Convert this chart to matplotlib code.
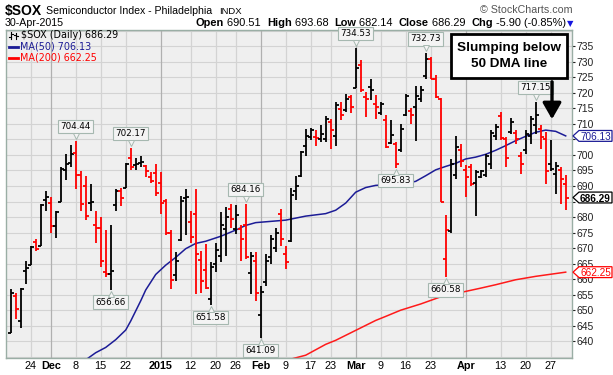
import matplotlib
matplotlib.use('Agg')
import matplotlib.pyplot as plt
import numpy as np
import pandas as pd
from matplotlib.collections import LineCollection
from matplotlib.patches import Rectangle, Polygon, FancyArrowPatch
from matplotlib.lines import Line2D
from matplotlib.transforms import blended_transform_factory, offset_copy

W, H = 613, 375

# trading days on the chart (NYSE holidays removed)
holidays = ['2014-11-27', '2014-12-25', '2015-01-01', '2015-01-19', '2015-02-16', '2015-04-03']
dates = pd.bdate_range('2014-11-18', '2015-04-30').drop(pd.to_datetime(holidays))

# daily OHLC
opens = [642.7, 654.6, 646.5, 662.5, 664.7, 671.8, 670.7, 685.5, 684.6, 677.0,
         684.7, 695.1, 697.3, 700.6, 693.4, 689.9, 684.6, 677.4, 676.6, 662.3,
         661.6, 684.0, 688.3, 689.4, 699.1, 696.7, 697.5, 696.3, 692.8, 694.3,
         691.0, 685.2, 674.9, 661.4, 672.6, 686.0, 678.3, 681.0, 666.2, 662.9,
         653.5, 665.0, 667.5, 676.0, 682.6, 676.0, 676.0, 677.4, 662.0, 666.0,
         648.5, 659.0, 667.0, 670.0, 681.0, 668.0, 672.2, 688.4, 693.3, 703.0,
         705.7, 705.7, 705.0, 705.2, 710.5, 706.0, 714.7, 714.5, 718.5, 721.5,
         729.0, 718.5, 722.0, 716.5, 713.5, 711.1, 704.0, 703.5, 701.5, 713.0,
         714.0, 715.5, 718.0, 725.5, 731.0, 724.5, 718.0, 666.5, 675.5, 693.5,
         701.5, 695.0, 696.0, 691.0, 693.0, 693.5, 697.0, 706.0, 712.5, 705.0,
         707.5, 707.0, 699.5, 701.5, 706.0, 709.5, 708.5, 705.0, 697.0, 694.0,
         695.0, 690.51]
highs = [656.9, 655.6, 657.2, 666.0, 670.7, 672.8, 684.2, 688.3, 686.6, 681.8,
         696.1, 700.3, 703.2, 704.44, 694.9, 693.2, 690.7, 682.1, 680.0, 675.9,
         677.4, 688.9, 689.4, 697.4, 702.17, 698.9, 699.8, 696.9, 694.6, 697.0,
         694.6, 685.8, 675.9, 668.6, 686.8, 688.9, 681.8, 688.9, 669.1, 671.2,
         665.5, 671.7, 681.6, 683.2, 684.2, 683.9, 677.4, 684.16, 668.6, 668.6,
         657.7, 668.1, 674.3, 676.4, 682.6, 670.7, 689.5, 693.3, 701.4, 708.4,
         708.8, 708.1, 709.5, 712.4, 711.7, 717.1, 717.1, 719.5, 719.2, 734.53,
         730.6, 720.3, 724.6, 719.2, 717.1, 712.8, 711.4, 704.1, 710.0, 719.6,
         715.2, 722.2, 722.2, 732.73, 731.4, 725.7, 718.2, 680.7, 698.7, 706.0,
         703.6, 696.6, 697.1, 695.0, 695.2, 700.3, 707.9, 710.0, 713.8, 705.7,
         712.0, 707.9, 700.9, 707.9, 712.4, 717.15, 709.5, 707.4, 704.7, 697.6,
         696.0, 693.68]
lows = [642.7, 647.3, 644.4, 658.5, 664.5, 669.1, 670.7, 682.1, 674.8, 673.3,
        684.7, 692.0, 696.1, 688.9, 682.1, 679.0, 682.1, 671.7, 663.9, 660.8,
        656.66, 681.8, 683.7, 689.4, 695.1, 695.3, 696.1, 693.0, 690.9, 686.8,
        681.1, 674.3, 656.7, 659.3, 672.3, 674.3, 671.7, 655.1, 655.6, 656.7,
        651.58, 662.4, 665.5, 667.6, 676.4, 674.5, 666.0, 666.5, 655.1, 653.0,
        641.09, 657.7, 665.0, 668.6, 670.7, 663.4, 671.8, 685.4, 693.0, 699.8,
        704.7, 703.0, 704.1, 704.1, 702.0, 703.0, 711.1, 713.8, 713.6, 721.4,
        720.3, 712.2, 717.6, 711.7, 712.8, 702.3, 703.6, 695.83, 700.9, 712.4,
        710.0, 704.4, 717.1, 724.6, 724.3, 718.2, 684.7, 660.58, 675.0, 692.2,
        696.0, 686.3, 690.1, 680.4, 692.5, 692.8, 695.5, 704.7, 704.7, 696.0,
        706.6, 703.6, 693.9, 700.3, 703.6, 706.8, 702.0, 690.6, 694.9, 687.4,
        684.1, 682.14]
closes = [655.6, 650.5, 656.9, 663.5, 670.3, 669.6, 684.0, 686.6, 677.2, 681.5,
          695.6, 697.0, 700.4, 693.5, 684.1, 680.4, 684.9, 676.4, 665.9, 661.8,
          662.7, 688.5, 686.0, 697.0, 696.2, 697.1, 697.8, 694.9, 691.5, 687.7,
          684.5, 675.0, 659.6, 666.0, 685.2, 686.4, 673.7, 668.0, 659.3, 657.0,
          664.0, 669.5, 677.5, 680.0, 679.5, 680.5, 672.8, 667.0, 667.5, 655.5,
          655.8, 666.0, 673.0, 675.0, 673.0, 665.6, 687.0, 690.1, 700.9, 706.0,
          707.9, 705.5, 706.8, 711.7, 707.9, 716.0, 712.8, 718.0, 715.5, 728.0,
          720.8, 718.0, 720.8, 715.5, 716.5, 702.5, 706.3, 697.0, 708.5, 719.0,
          713.0, 719.0, 721.0, 731.0, 724.6, 718.5, 685.0, 675.8, 697.0, 702.5,
          698.0, 693.0, 690.5, 694.5, 694.8, 699.5, 707.0, 709.0, 705.5, 699.0,
          710.6, 705.0, 697.0, 706.8, 711.5, 713.0, 705.7, 694.9, 695.5, 696.5,
          692.19, 686.29]

# moving averages, read at a few dates
ma50_dates = ['2014-12-10', '2014-12-12', '2014-12-16', '2014-12-18', '2014-12-22', '2014-12-23',
              '2014-12-26', '2014-12-29', '2014-12-31',
              '2015-01-05', '2015-01-07', '2015-01-09', '2015-01-13', '2015-01-15', '2015-01-21',
              '2015-01-26', '2015-01-28', '2015-01-30', '2015-02-04', '2015-02-09', '2015-02-13',
              '2015-02-20', '2015-02-24', '2015-02-26', '2015-03-02', '2015-03-04', '2015-03-06',
              '2015-03-11', '2015-03-16', '2015-03-18', '2015-03-20', '2015-03-24', '2015-03-26',
              '2015-03-30', '2015-04-01', '2015-04-06', '2015-04-08', '2015-04-10', '2015-04-14',
              '2015-04-16', '2015-04-20', '2015-04-22', '2015-04-24', '2015-04-28', '2015-04-30']
ma50_vals = [634.0, 636.3, 638.0, 640.5, 643.6, 646.5, 653.0, 656.5, 661.5,
             664.5, 667.0, 669.8, 671.5, 672.2, 673.8,
             675.8, 677.3, 678.2, 678.6, 679.0, 680.3, 681.1, 682.2, 684.5, 688.0, 689.5, 690.2,
             690.5, 690.8, 691.5, 693.3, 695.2, 696.3, 697.3, 698.7, 699.3, 700.2, 701.5, 703.0,
             704.6, 706.0, 707.3, 708.0, 707.6, 706.13]
ma200_dates = ['2015-02-09', '2015-02-13', '2015-02-20', '2015-02-24', '2015-03-02', '2015-03-06',
               '2015-03-10', '2015-03-13', '2015-03-19', '2015-03-25', '2015-03-31', '2015-04-07',
               '2015-04-10', '2015-04-16', '2015-04-22', '2015-04-30']
ma200_vals = [633.8, 635.5, 639.0, 640.3, 643.5, 646.7, 648.0, 650.0, 652.0, 654.3, 655.7, 657.1,
              658.2, 659.8, 660.9, 662.25]

# labelled highs / lows
hi_dates = ['2014-12-08', '2014-12-23', '2015-01-28', '2015-03-02', '2015-03-20', '2015-04-22']
hi_vals = [704.44, 702.17, 684.16, 734.53, 732.73, 717.15]
lo_dates = ['2014-12-17', '2015-01-16', '2015-02-02', '2015-03-12', '2015-03-26']
lo_vals = [656.66, 651.58, 641.09, 695.83, 660.58]

tick_dates = ['2014-11-24', '2014-12-01', '2014-12-08', '2014-12-15', '2014-12-22', '2015-01-02',
              '2015-01-12', '2015-01-20', '2015-01-26', '2015-02-02', '2015-02-09', '2015-02-17',
              '2015-02-23', '2015-03-02', '2015-03-09', '2015-03-16', '2015-03-23', '2015-04-01',
              '2015-04-13', '2015-04-20', '2015-04-27']
tick_labels = ['24', 'Dec', '8', '15', '22', '2015', '12', '20', '26', 'Feb', '9', '17', '23',
               'Mar', '9', '16', '23', 'Apr', '13', '20', '27']

# price tags at the right edge: (value, colour, bold)
tags = [(706.13, '#1c1c96', False), (686.29, 'black', True), (662.25, '#ff0000', False)]


def pos(d):
    return dates.get_loc(pd.Timestamp(d))


def fx(x):
    return x / W


def fy(y):
    return 1 - y / H


fig = plt.figure(figsize=(W / 100, H / 100), dpi=100)
fig.patch.set_facecolor('white')
ax = fig.add_axes([fx(6), fy(358), 566 / W, 328.5 / H])
ax.set_facecolor('#efefef')
ax.set_xlim(-0.94, 112.26)
ax.set_ylim(634.6, 740.4)

# grid
for v in range(635, 741, 5):
    ax.axhline(v, color='#d3d3d3', lw=0.8, zorder=0)
tick_pos = [pos(d) for d in tick_dates]
for p, lab in zip(tick_pos, tick_labels):
    strong = not lab.isdigit() or lab == '2015'
    ax.axvline(p, color='#b0b0b0' if strong else '#d3d3d3', lw=0.9, zorder=0)

# moving averages
ax.plot([pos(d) for d in ma50_dates], ma50_vals, color='#1c1c96', lw=1.1, zorder=2)
ax.plot([pos(d) for d in ma200_dates], ma200_vals, color='#ff1a1a', lw=1.1, zorder=2)

# OHLC bars, red when close is below previous close
segs, cols = [], []
for i in range(len(closes)):
    c = 'black' if i == 0 or closes[i] >= closes[i - 1] else '#ff0000'
    segs += [[(i, lows[i]), (i, highs[i])],
             [(i - 0.6, opens[i]), (i, opens[i])],
             [(i, closes[i]), (i + 0.6, closes[i])]]
    cols += [c] * 3
ax.add_collection(LineCollection(segs, colors=cols, linewidths=1.3, zorder=3))

# value flags with a small pointer
box = dict(boxstyle='square,pad=0.25', fc='#f4f4f4', ec='#a6b8b0', lw=0.8)
up = offset_copy(ax.transData, fig=fig, y=5, units='dots')
dn = offset_copy(ax.transData, fig=fig, y=-4, units='dots')
for d, v in zip(hi_dates, hi_vals):
    ax.annotate(f'{v:.2f}', (pos(d), v), xytext=(0, 10), textcoords='offset pixels',
                ha='center', va='bottom', fontsize=6.3, bbox=box, zorder=5)
    ax.plot(pos(d), v, marker='v', ms=5, mfc='#f4f4f4', mec='#a6b8b0', mew=0.7,
            transform=up, zorder=6, clip_on=False)
for d, v in zip(lo_dates, lo_vals):
    ax.annotate(f'{v:.2f}', (pos(d), v), xytext=(0, -8), textcoords='offset pixels',
                ha='center', va='top', fontsize=6.3, bbox=box, zorder=5)
    ax.plot(pos(d), v, marker='^', ms=5, mfc='#f4f4f4', mec='#a6b8b0', mew=0.7,
            transform=dn, zorder=6, clip_on=False)

# axes styling
for s in ax.spines.values():
    s.set_color('#9aaea5')
    s.set_linewidth(1)
ax.yaxis.tick_right()
yt = list(range(640, 736, 5))
ax.set_yticks(yt)
# 705 and 685 sit behind the MA(50) and close tags
ax.set_yticklabels(['' if v in (705, 685) else str(v) for v in yt])
ax.tick_params(axis='y', length=2.5, width=0.8, pad=1, labelsize=7.5, colors='#222222')
for t in ax.get_yticklabels():
    t.set_fontfamily('Liberation Sans')
ax.set_xticks(tick_pos)
ax.set_xticklabels(tick_labels)
ax.tick_params(axis='x', length=0, pad=2.5, labelsize=7.8)
for t, lab in zip(ax.get_xticklabels(), tick_labels):
    t.set_fontfamily('Liberation Sans')
    if not lab.isdigit() or lab == '2015':
        t.set_fontweight('bold')

# right side tags
tr = blended_transform_factory(fig.transFigure, ax.transData)
for v, col, bold in tags:
    h = 1.75
    poly = Polygon([(fx(573), v), (fx(579), v + h), (fx(612), v + h), (fx(612), v - h), (fx(579), v - h)],
                   closed=True, fc='white', ec=col, lw=0.9, transform=tr, clip_on=False, zorder=6)
    fig.patches.append(poly)
    fig.text(fx(595.5), v, f'{v:.2f}', transform=tr, ha='center', va='center_baseline',
             fontsize=7.2, fontweight='bold' if bold else 'normal',
             color=col, family='Liberation Sans', zorder=7)

# legend inside plot
fig.text(fx(21), fy(35.5), '$SOX (Daily) 686.29', fontsize=6.9, va='center')
fig.text(fx(20), fy(46.5), 'MA(50) 706.13', fontsize=6.9, va='center', color='#1c1c96')
fig.text(fx(20), fy(58), 'MA(200) 662.25', fontsize=6.9, va='center', color='#ff0000')
fig.lines.append(Line2D([fx(9), fx(18)], [fy(46.5), fy(46.5)], color='#1c1c96', lw=2, transform=fig.transFigure))
fig.lines.append(Line2D([fx(9), fx(18)], [fy(58), fy(58)], color='#ff0000', lw=2, transform=fig.transFigure))
for xs, y0, y1, yo, yc in [(11, 32, 39, 37, 34), (16, 33, 39, 35, 36)]:
    fig.lines.append(Line2D([fx(xs), fx(xs)], [fy(y0), fy(y1)], color='black', lw=0.8, transform=fig.transFigure))
    fig.lines.append(Line2D([fx(xs - 2), fx(xs)], [fy(yo), fy(yo)], color='black', lw=0.8, transform=fig.transFigure))
    fig.lines.append(Line2D([fx(xs), fx(xs + 2)], [fy(yc), fy(yc)], color='black', lw=0.8, transform=fig.transFigure))

# callout box and arrow
fig.patches.append(Rectangle((fx(451), fy(78)), 116 / W, 44 / H, transform=fig.transFigure,
                             fc='white', ec='black', lw=2, zorder=8))
fig.text(fx(509), fy(48), 'Slumping below', ha='center', va='center', fontsize=9.7,
         fontweight='bold', family='Liberation Sans', zorder=9)
fig.text(fx(509), fy(64), '50 DMA line', ha='center', va='center', fontsize=9.7,
         fontweight='bold', family='Liberation Sans', zorder=9)
fig.patches.append(FancyArrowPatch((fx(552), fy(79)), (fx(552), fy(122)), transform=fig.transFigure,
                                   arrowstyle='-|>,head_length=0.7,head_width=0.4', mutation_scale=14,
                                   lw=2.4, color='black', zorder=8))

# header
fig.text(fx(5), fy(15.5), '$SOX', fontsize=10, fontweight='bold', family='Liberation Sans')
fig.text(fx(46), fy(14.5), 'Semiconductor Index - Philadelphia', fontsize=7.6, family='Liberation Sans')
fig.text(fx(219), fy(14.5), 'INDX', fontsize=6.8, family='Liberation Sans')
fig.text(fx(572), fy(13), '\u00a9 StockCharts.com', fontsize=7.7, ha='right', color='#555555',
         family='Liberation Sans')
fig.text(fx(5), fy(26.5), '30-Apr-2015', fontsize=7.7, family='Liberation Sans')

renderer = fig.canvas.get_renderer()
parts = [('Open', 'bold'), (' 690.51  ', 'normal'), ('High', 'bold'), (' 693.68  ', 'normal'),
         ('Low', 'bold'), (' 682.14  ', 'normal'), ('Close', 'bold'), (' 686.29  ', 'normal'),
         ('Chg', 'bold'), (' -5.90 (-0.85%)', 'normal')]
x = 196
for txt, wt in parts:
    t = fig.text(fx(x), fy(26.5), txt, fontsize=7.9, fontweight=wt, family='Liberation Sans')
    x = t.get_window_extent(renderer).x1
fig.text(fx(x + 1), fy(26), '\u25bc', fontsize=6, color='#1515e0', family='DejaVu Sans')

fig.savefig('out.png', dpi=100, facecolor='white')
